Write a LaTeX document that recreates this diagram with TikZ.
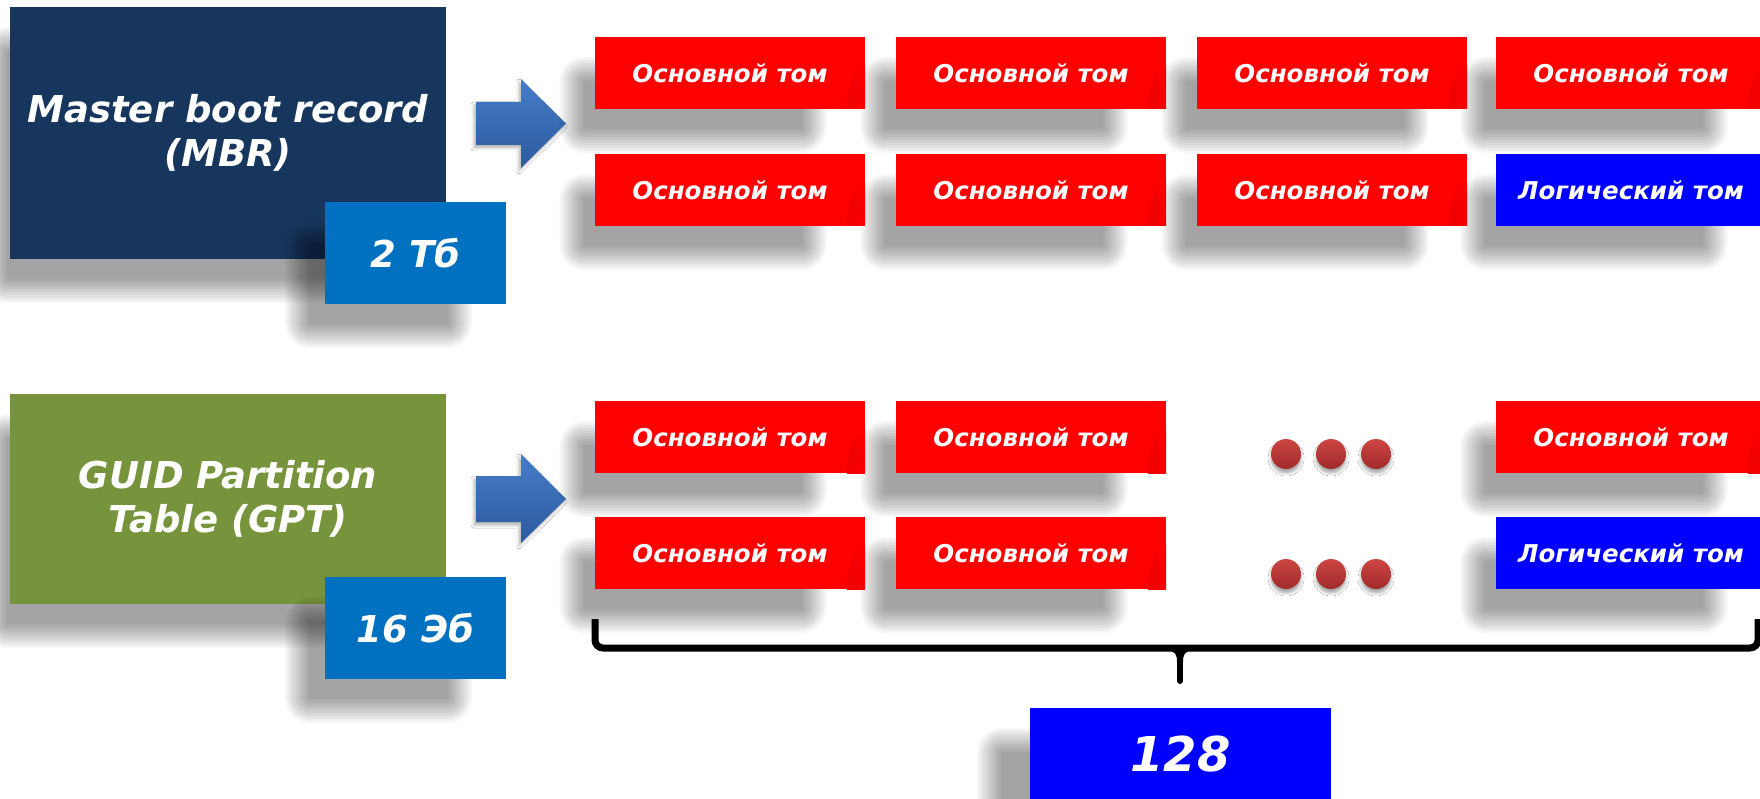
\documentclass[tikz,border=0pt]{standalone}
\usepackage{fontspec}
\setmainfont{DejaVu Sans}
\usetikzlibrary{shadows.blur}
\definecolor{mbrblue}{RGB}{23,54,93}
\definecolor{gptgreen}{RGB}{119,147,60}
\definecolor{sizeblue}{RGB}{0,112,192}
\definecolor{volred}{RGB}{255,0,0}
\definecolor{logblue}{RGB}{0,0,255}
\definecolor{arrowtop}{RGB}{70,125,200}
\definecolor{arrowbot}{RGB}{44,90,158}
\definecolor{dottop}{RGB}{205,70,68}
\definecolor{dotbot}{RGB}{160,42,42}
% soft shadow of the box x1,y1 (top left) -- x2,y2 (bottom right), y downwards
\newcommand\softrect[4]{%
  \pgfmathsetmacro\sxa{#1+0.05*(#3-#1)-37}%
  \pgfmathsetmacro\sxb{#3-0.05*(#3-#1)-37}%
  \pgfmathsetmacro\sya{#2+32}%
  \pgfmathsetmacro\syb{#4+32}%
  \foreach \k in {0,...,12}{%
    \pgfmathsetmacro\dd{12-2*\k}%
    \pgfmathsetmacro\rr{13+\dd}%
    \fill[black, fill opacity=0.031, rounded corners=\rr pt]
      (\sxa-\dd, \sya-\dd) rectangle (\sxb+\dd, \syb+\dd);}}
\begin{document}
\begin{tikzpicture}[x=1pt,y=-1pt,
  bigfont/.style={font=\bfseries\itshape\fontsize{37}{44}\selectfont},
  bigbox/.style={rectangle, inner sep=0pt, minimum width=436pt, text=white, align=center, bigfont},
  sizebox/.style={rectangle, fill=sizeblue, inner sep=0pt, minimum width=181pt, minimum height=102pt, text=white, bigfont},
  vol/.style={rectangle, fill=volred, inner sep=0pt, minimum width=270pt, minimum height=72pt, text=white,
    font=\bfseries\itshape\fontsize{24.5}{29}\selectfont,
    path picture={\shade[inner color=volred!74!black, outer color=volred]
      (path picture bounding box.south east) ellipse [x radius=18pt, y radius=44pt];}},
  logvol/.style={rectangle, fill=logblue, inner sep=0pt, minimum width=270pt, minimum height=72pt, text=white,
    font=\bfseries\itshape\fontsize{24.5}{29}\selectfont},
  dotball/.style={circle, inner sep=0pt, minimum size=30pt, top color=dottop, bottom color=dotbot,
    blur shadow={shadow xshift=0pt, shadow yshift=-4pt, shadow blur radius=3pt, shadow opacity=35}},
  blockarrow/.style={top color=arrowtop, bottom color=arrowbot,
    blur shadow={shadow xshift=-2pt, shadow yshift=-3pt, shadow blur radius=3pt, shadow opacity=30}},
  bracestyle/.style={line width=7pt, black, rounded corners=8pt}
]
\fill[white] (0,0) rectangle (1760,799);
\useasboundingbox (0,0) rectangle (1760,799);

% left boxes
\softrect{10}{7}{446}{259}
\softrect{10}{394}{446}{604}
\node[bigbox, fill=mbrblue, minimum height=252pt] (mbr) at (228,133) {Master boot record\\(MBR)};
\node[bigbox, fill=gptgreen, minimum height=210pt] (gpt) at (228,499) {GUID Partition\\Table (GPT)};
\softrect{325}{202}{506}{304}
\softrect{325}{577}{506}{679}
\node[sizebox] (mbrsize) at (415.5,253) {2 Тб};
\node[sizebox] (gptsize) at (415.5,628) {16 Эб};

% block arrows
\shade[blockarrow] (476,102) -- (521,102) -- (521,79) -- (566,123.5) -- (521,168) -- (521,145) -- (476,145) -- cycle;
\shade[blockarrow] (476,476) -- (521,476) -- (521,454) -- (566,499) -- (521,543) -- (521,522) -- (476,522) -- cycle;

% shadows of the volumes
\foreach \ya/\yb in {37/109,154/226}{
  \foreach \xa/\xb in {595/865,896/1166,1197/1467,1496/1766}{\softrect{\xa}{\ya}{\xb}{\yb}}}
\foreach \ya/\yb in {401/473,517/589}{
  \foreach \xa/\xb in {595/865,896/1166,1496/1766}{\softrect{\xa}{\ya}{\xb}{\yb}}}

% MBR volumes
\node[vol] (m11) at (730,73) {Основной том};
\node[vol] (m12) at (1031,73) {Основной том};
\node[vol] (m13) at (1332,73) {Основной том};
\node[vol] (m14) at (1631,73) {Основной том};
\node[vol] (m21) at (730,190) {Основной том};
\node[vol] (m22) at (1031,190) {Основной том};
\node[vol] (m23) at (1332,190) {Основной том};
\node[logvol] (m24) at (1631,190) {Логический том};

% GPT volumes
\node[vol] (g11) at (730,437) {Основной том};
\node[vol] (g12) at (1031,437) {Основной том};
\node[vol] (g14) at (1631,437) {Основной том};
\node[vol] (g21) at (730,553) {Основной том};
\node[vol] (g22) at (1031,553) {Основной том};
\node[logvol] (g24) at (1631,553) {Логический том};

% dots
\node[dotball] (d11) at (1286,454) {};
\node[dotball] (d12) at (1331,454) {};
\node[dotball] (d13) at (1376,454) {};
\node[dotball] (d21) at (1286,574) {};
\node[dotball] (d22) at (1331,574) {};
\node[dotball] (d23) at (1376,574) {};

% brace
\coordinate (bl) at (595,619);
\coordinate (bm) at (1180,648);
\coordinate (br) at (1758,619);
\coordinate (bt) at (1180,681);
\draw[bracestyle] (bl) |- (bm) -| (br);
\fill (1166,650) .. controls (1176,651) and (1177,655) .. (1177,662) -- (1183,662) .. controls (1183,655) and (1184,651) .. (1194,650) -- cycle;
\draw[line width=6pt, line cap=round] (bm) -- (bt);

% count box
\softrect{1010}{708}{1331}{800}
\node[rectangle, fill=logblue, inner sep=0pt, minimum width=301pt, minimum height=92pt, text=white,
  font=\bfseries\itshape\fontsize{48}{56}\selectfont] (count) at (1180.5,754) {128};
\end{tikzpicture}
\end{document}
